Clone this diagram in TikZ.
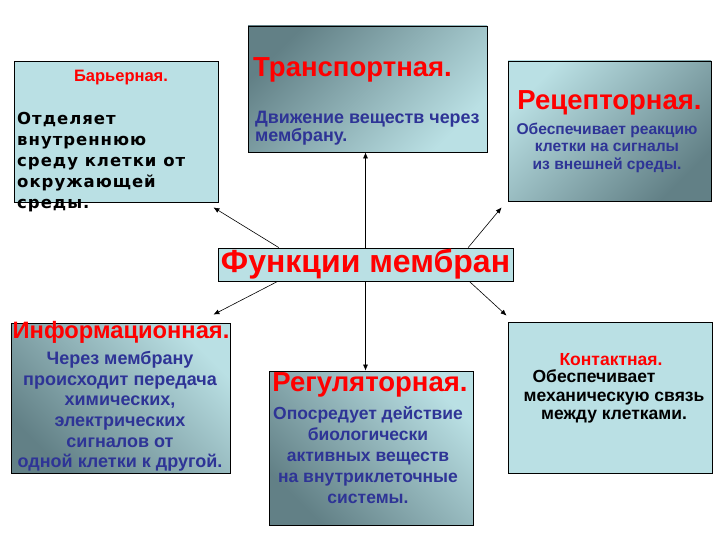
\documentclass[tikz,border=0pt]{standalone}
\usepackage{fontspec}
\setmainfont{Liberation Sans}
\newfontfamily\dvs[LetterSpace=6]{DejaVu Sans}
\usetikzlibrary{arrows.meta,calc}
\definecolor{lightfill}{RGB}{186,224,228}
\definecolor{darkfill}{RGB}{98,128,134}
\definecolor{txtblue}{RGB}{46,52,150}
\definecolor{txtred}{RGB}{255,0,0}
\tikzset{
  box/.style={draw=black, line width=0.8pt, inner sep=0pt, rectangle},
  flat/.style={box, fill=lightfill},
  gradtl/.style={box, top color=darkfill, bottom color=lightfill, shading angle=45},
  gradbr/.style={box, top color=lightfill, bottom color=darkfill, shading angle=45},
  gradbl/.style={box, top color=lightfill, bottom color=darkfill, shading angle=-45},
  bigtitle/.style={inner sep=0pt, text=txtred, font=\fontsize{27.5}{31}\selectfont\bfseries},
  smalltitle/.style={inner sep=0pt, text=txtred, font=\fontsize{16.5}{19}\selectfont\bfseries},
  bluebody/.style={inner sep=0pt, text=txtblue, font=\fontsize{18}{20.6}\selectfont\bfseries},
  conn/.style={line width=0.6pt, -{Latex[length=6pt,width=5pt]}}
}
\begin{document}
\begin{tikzpicture}[x=1pt,y=-1pt]
\useasboundingbox (0,0) rectangle (720,540);
% boxes
\node[flat, minimum width=204pt, minimum height=141pt] (bar) at (116,131.5) {};
\node[gradtl, minimum width=239pt, minimum height=126pt] (tr) at (367.5,89) {};
\node[gradbr, minimum width=203pt, minimum height=140pt] (rec) at (609.5,131) {};
\node[gradbl, minimum width=219pt, minimum height=150pt] (inf) at (120.5,398) {};
\node[gradbl, minimum width=204pt, minimum height=154pt] (reg) at (371,448) {};
\node[flat, minimum width=204pt, minimum height=151pt] (con) at (610,397.5) {};
\node[flat, minimum width=295pt, minimum height=33pt] (fm) at (365.5,264.5) {};
% texts
\node[smalltitle] (bart) at (121,78) {Барьерная.};
\node[inner sep=0pt, anchor=west, align=left, font=\dvs\fontsize{16.5}{21}\selectfont\bfseries] (barb) at (17,162.5)
  {Отделяет\\внутреннюю\\среду клетки от\\окружающей\\среды.};
\node[bigtitle, anchor=west] (trt) at (253,70) {Транспортная.};
\node[bluebody, anchor=west, align=left, font=\fontsize{17.9}{18}\selectfont\bfseries] (trb) at (255,128.5)
  {Движение веществ через\\мембрану.};
\node[bigtitle] (rect) at (609.5,103) {Рецепторная.};
\node[bluebody, align=center, font=\fontsize{15.6}{17.5}\selectfont\bfseries] (recb) at (607,147.5)
  {Обеспечивает реакцию\\клетки на сигналы\\из внешней среды.};
\node[bigtitle, font=\fontsize{23.7}{28}\selectfont\bfseries] (inft) at (121,332) {Информационная.};
\node[bluebody, align=center] (infb) at (120,411.5)
  {Через мембрану\\происходит передача\\химических,\\электрических\\сигналов от\\одной клетки к другой.};
\node[bigtitle] (regt) at (370,385) {Регуляторная.};
\node[bluebody, align=center, font=\fontsize{17.5}{21}\selectfont\bfseries] (regb) at (368,455)
  {Опосредует действие\\биологически\\активных веществ\\на внутриклеточные\\системы.};
\node[smalltitle, font=\fontsize{17.5}{19}\selectfont\bfseries] (cont) at (611,360) {Контактная.};
\node[inner sep=0pt, align=center, font=\fontsize{17.5}{18.5}\selectfont\bfseries] (conb) at (614,396.5)
  {Обеспечивает\hspace*{40pt}\\механическую связь\\между клетками.};
\node[inner sep=0pt, text=txtred, font=\fontsize{32}{36}\selectfont\bfseries] (fmt) at (fm.center) {Функции мембран};
% connectors
\draw[conn] ($(fm.north west)!0.207!(fm.north east)$) -- ($(bar.south east)+(-5,5)$);
\draw[conn] ($(fm.north west)!0.847!(fm.north east)$) -- ($(rec.south west)+(-6,6)$);
\draw[conn] ($(fm.south west)!0.203!(fm.south east)$) -- ($(inf.north east)+(-17,-8)$);
\draw[conn] ($(fm.south west)!0.851!(fm.south east)$) -- ($(con.north west)+(-1,-6)$);
\draw[conn] (fm.north) -- (fm.north |- tr.south);
\draw[conn] (fm.south) -- (fm.south |- reg.north);
\end{tikzpicture}
\end{document}
